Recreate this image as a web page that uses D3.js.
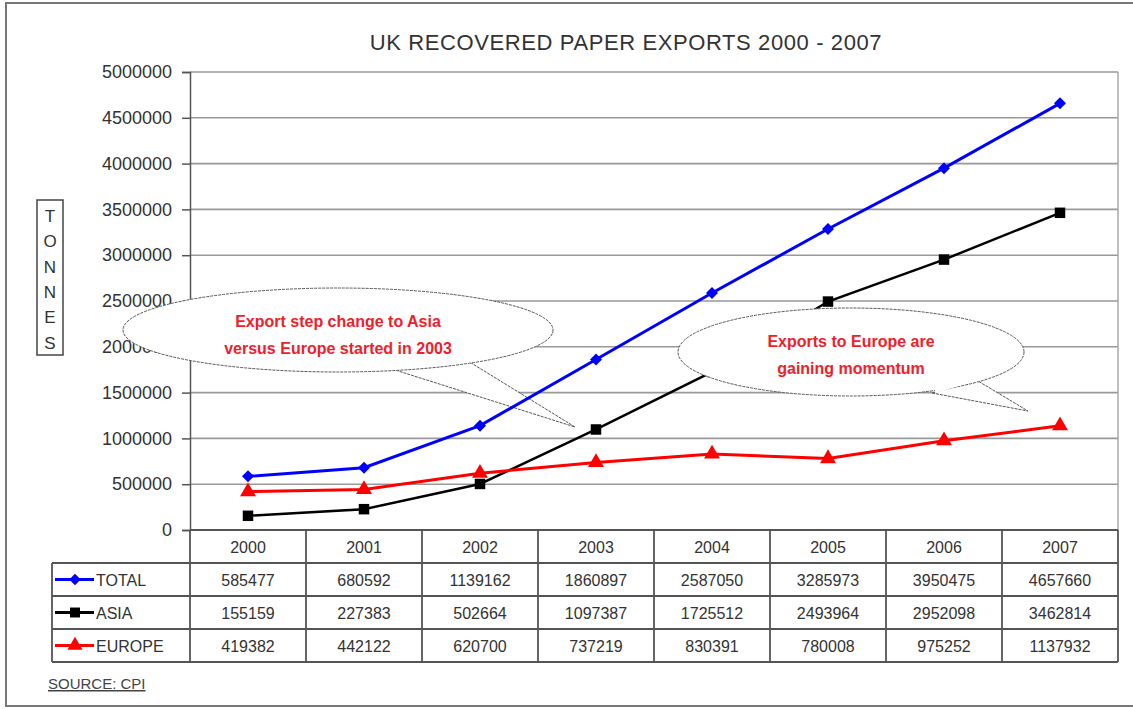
<!DOCTYPE html>
<html>
<head>
<meta charset="utf-8">
<script src="https://cdn.jsdelivr.net/npm/d3@7"></script>
<style>
  body { margin: 0; background: #fff; }
  svg { display: block; font-family: "Liberation Sans", Arial, sans-serif; }
</style>
</head>
<body>
<script>
var years = ["2000", "2001", "2002", "2003", "2004", "2005", "2006", "2007"];
var total = [585477, 680592, 1139162, 1860897, 2587050, 3285973, 3950475, 4657660];
var asia = [155159, 227383, 502664, 1097387, 1725512, 2493964, 2952098, 3462814];
var europe = [419382, 442122, 620700, 737219, 830391, 780008, 975252, 1137932];
var y_ticks = [0, 500000, 1000000, 1500000, 2000000, 2500000, 3000000, 3500000, 4000000, 4500000, 5000000];
var series_names = ["TOTAL", "ASIA", "EUROPE"];
var axis_letters = ["T", "O", "N", "N", "E", "S"];

var w = 1133,
    h = 709,
    p_left = 190,
    p_right = 1118,
    p_top = 72,
    p_bottom = 530,
    row_h = 33;

var svg = d3.select("body").append("svg")
    .attr("width", w)
    .attr("height", h);

var x = d3.scaleBand().domain(years).range([p_left, p_right]);
var y = d3.scaleLinear().domain([0, 5000000]).range([p_bottom, p_top]);

// diamond drawn as a square turned 45 degrees
var series = [
  { name: series_names[0], values: total, color: "#0000ff", marker: d3.symbolSquare, rot: 45, size: 72, width: 3 },
  { name: series_names[1], values: asia, color: "#000000", marker: d3.symbolSquare, rot: 0, size: 110, width: 2.5 },
  { name: series_names[2], values: europe, color: "#ff0000", marker: d3.symbolTriangle, rot: 0, size: 110, width: 3 }
];

function cx(i) { return x(years[i]) + x.bandwidth() / 2; }

// outer frame
svg.append("rect")
    .attr("x", 6).attr("y", 3)
    .attr("width", w + 10).attr("height", 703)
    .attr("fill", "none").attr("stroke", "#777").attr("stroke-width", 2);

// title
svg.append("text")
    .attr("x", 626).attr("y", 50)
    .attr("text-anchor", "middle")
    .attr("font-size", 22)
    .attr("letter-spacing", 0.6)
    .attr("fill", "#333")
    .text("UK RECOVERED PAPER EXPORTS 2000 - 2007");

// grid lines
svg.append("g").selectAll("line")
    .data(y_ticks.slice(1))
    .enter().append("line")
    .attr("x1", p_left).attr("x2", p_right)
    .attr("y1", function(d) { return y(d); })
    .attr("y2", function(d) { return y(d); })
    .attr("stroke", "#999").attr("stroke-width", 1.6);

svg.append("line")
    .attr("x1", p_right).attr("x2", p_right).attr("y1", p_top).attr("y2", p_bottom)
    .attr("stroke", "#aaa").attr("stroke-width", 1.5);

// y axis
var y_axis = d3.axisLeft(y)
    .tickValues(y_ticks)
    .tickSize(8)
    .tickPadding(10)
    .tickFormat(function(d) { return d; });

var gy = svg.append("g")
    .attr("transform", "translate(" + p_left + ",0)")
    .call(y_axis);
gy.select(".domain").attr("stroke", "#555").attr("stroke-width", 1.5);
gy.selectAll(".tick line").attr("stroke", "#555").attr("stroke-width", 1.5);
gy.selectAll(".tick text")
    .attr("font-size", 18)
    .attr("fill", "#333")
    .attr("font-family", "Liberation Sans, Arial, sans-serif");

// TONNES box
svg.append("rect")
    .attr("x", 37).attr("y", 200).attr("width", 26).attr("height", 155)
    .attr("fill", "#fff").attr("stroke", "#444").attr("stroke-width", 1.5);
svg.append("g").selectAll("text")
    .data(axis_letters)
    .enter().append("text")
    .attr("x", 50)
    .attr("y", function(d, i) { return 222 + i * 25.3; })
    .attr("text-anchor", "middle")
    .attr("font-size", 17)
    .attr("fill", "#333")
    .text(function(d) { return d; });

function draw_series(s) {
  var line = d3.line()
      .x(function(d, i) { return cx(i); })
      .y(function(d) { return y(d); });
  var g = svg.append("g");
  g.append("path")
      .datum(s.values)
      .attr("d", line)
      .attr("fill", "none")
      .attr("stroke", s.color)
      .attr("stroke-width", s.width);
  g.selectAll("path.mark")
      .data(s.values)
      .enter().append("path")
      .attr("class", "mark")
      .attr("d", d3.symbol().type(s.marker).size(s.size))
      .attr("transform", function(d, i) { return "translate(" + cx(i) + "," + y(d) + ") rotate(" + s.rot + ")"; })
      .attr("fill", s.color);
}

draw_series(series[1]);
draw_series(series[2]);

// callouts
function callout(ex, ey, rx, ry, p1, tip, p2, lines, ly) {
  var g = svg.append("g");
  g.append("path")
      .attr("d", "M" + p1[0] + "," + p1[1] + "L" + tip[0] + "," + tip[1] + "L" + p2[0] + "," + p2[1] + "Z")
      .attr("fill", "#fff").attr("stroke", "#555").attr("stroke-width", 1)
      .attr("stroke-dasharray", "3,1");
  g.append("ellipse")
      .attr("cx", ex).attr("cy", ey).attr("rx", rx).attr("ry", ry)
      .attr("fill", "#fff").attr("stroke", "#555").attr("stroke-width", 1)
      .attr("stroke-dasharray", "3,1");
  g.append("path")
      .attr("d", "M" + (p1[0] + 3) + "," + (p1[1] - 2) + "L" + (p2[0] - 3) + "," + (p2[1] - 2))
      .attr("stroke", "#fff").attr("stroke-width", 4);
  g.selectAll("text")
      .data(lines)
      .enter().append("text")
      .attr("x", ex)
      .attr("y", function(d, i) { return ly + i * 27; })
      .attr("text-anchor", "middle")
      .attr("font-size", 16)
      .attr("font-weight", "bold")
      .attr("fill", "#f0202a")
      .text(function(d) { return d; });
}

callout(338, 330, 215, 42, [392, 369], [575, 427], [468, 361],
  ["Export step change to Asia", "versus Europe started in 2003"], 327);
callout(851, 352, 173, 44, [932, 393], [1028, 411], [978, 381],
  ["Exports to Europe are", "gaining momentum"], 347);

draw_series(series[0]);

// data table
var tbl = svg.append("g").attr("font-size", 16).attr("fill", "#333");
var t_left = 52,
    t_bottom = p_bottom + row_h * 4;

tbl.selectAll("text.year")
    .data(years)
    .enter().append("text")
    .attr("class", "year")
    .attr("x", function(d, i) { return cx(i); })
    .attr("y", p_bottom + row_h / 2 + 6)
    .attr("text-anchor", "middle")
    .text(function(d) { return d; });

series.forEach(function(s, r) {
  var ry = p_bottom + row_h * (r + 1);
  tbl.selectAll("text.v" + r)
      .data(s.values)
      .enter().append("text")
      .attr("class", "v" + r)
      .attr("x", function(d, i) { return cx(i); })
      .attr("y", ry + row_h / 2 + 6)
      .attr("text-anchor", "middle")
      .text(function(d) { return d; });
  var my = ry + row_h / 2;
  tbl.append("line")
      .attr("x1", 55).attr("x2", 94).attr("y1", my).attr("y2", my)
      .attr("stroke", s.color).attr("stroke-width", 3);
  tbl.append("path")
      .attr("d", d3.symbol().type(s.marker).size(s.size * 0.9))
      .attr("transform", "translate(75," + my + ") rotate(" + s.rot + ")")
      .attr("fill", s.color);
  tbl.append("text")
      .attr("x", 96).attr("y", my + 6)
      .text(s.name);
});

var tl = tbl.append("g").attr("stroke", "#555").attr("stroke-width", 1.8);
// horizontal rules
[0, 1, 2, 3, 4].forEach(function(k) {
  tl.append("line")
      .attr("x1", k === 0 ? p_left : t_left).attr("x2", p_right)
      .attr("y1", p_bottom + k * row_h).attr("y2", p_bottom + k * row_h);
});
// vertical rules
years.forEach(function(d, i) {
  tl.append("line")
      .attr("x1", x(d)).attr("x2", x(d))
      .attr("y1", p_bottom).attr("y2", t_bottom);
});
tl.append("line").attr("x1", p_right).attr("x2", p_right).attr("y1", p_bottom).attr("y2", t_bottom);
tl.append("line").attr("x1", t_left).attr("x2", t_left).attr("y1", p_bottom + row_h).attr("y2", t_bottom);

// source
svg.append("text")
    .attr("x", 48).attr("y", 689)
    .attr("font-size", 15)
    .attr("fill", "#444")
    .attr("text-decoration", "underline")
    .text("SOURCE: CPI");
</script>
</body>
</html>
